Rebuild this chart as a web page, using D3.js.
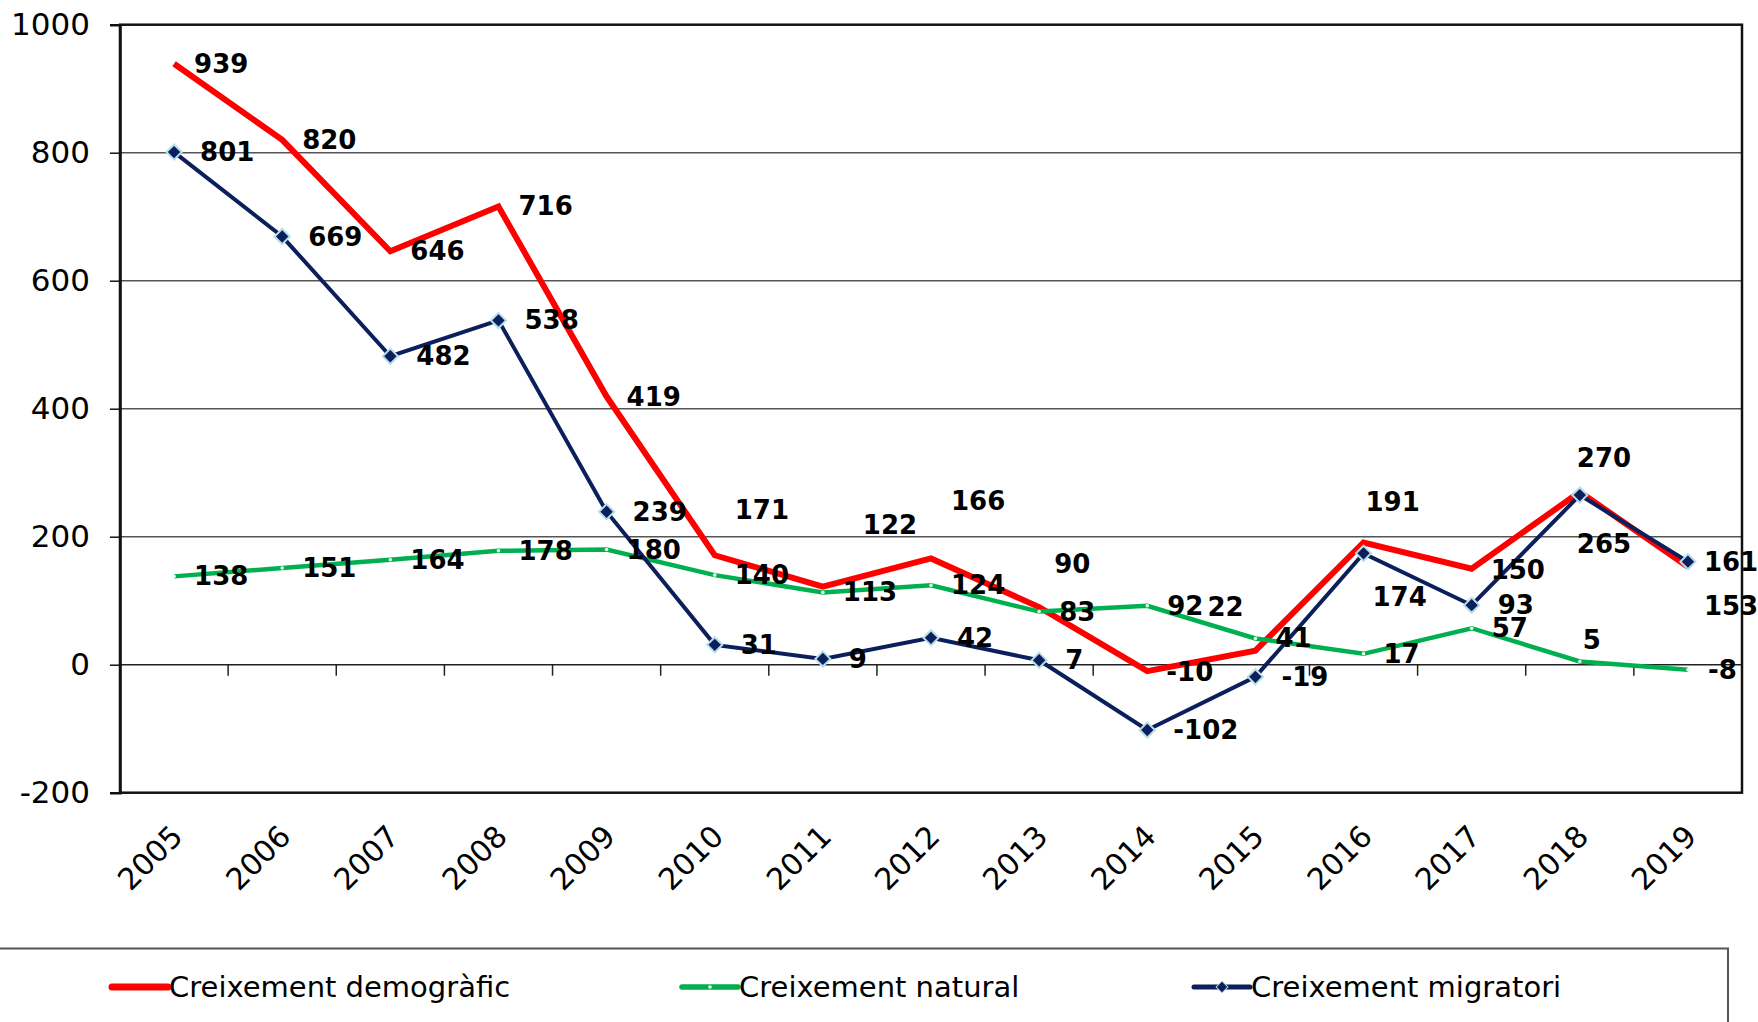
<!DOCTYPE html>
<html>
<head>
<meta charset="utf-8">
<script src="https://cdn.jsdelivr.net/npm/d3@7"></script>
<style>
  body { margin: 0; background: #fff; }
  svg { display: block; font-family: "DejaVu Sans", Verdana, sans-serif; }
</style>
</head>
<body>
<div id="chart"></div>
<script>
//------------------------------DATA------------------------------//
const years = ["2005","2006","2007","2008","2009","2010","2011","2012","2013","2014","2015","2016","2017","2018","2019"];
const demografic = [939, 820, 646, 716, 419, 171, 122, 166, 90, -10, 22, 191, 150, 270, 153];
const natural    = [138, 151, 164, 178, 180, 140, 113, 124, 83, 92, 41, 17, 57, 5, -8];
const migratori  = [801, 669, 482, 538, 239, 31, 9, 42, 7, -102, -19, 174, 93, 265, 161];
const yTicks = [-200, 0, 200, 400, 600, 800, 1000];

//----------------------------LAYOUT------------------------------//
const width = 1758;
const height = 1022;
const plot = { left: 120, right: 1742, top: 24.7, bottom: 792.7 };

// hand-placed data labels (dx from point to label start, dy to label centre)
const labelNudge = {
  dem: { "2010": [20, -45], "2011": [40, -62], "2012": [20, -57], "2013": [15, -43],
         "2014": [19, 1], "2015": [-48, -44], "2016": [2, -40], "2017": [19, 1],
         "2018": [-3, -34], "2019": [16, 39] },
  nat: { "2018": [3, -22] },
  mig: { "2016": [9, 44], "2018": [-3, 49], "2019": [16, 0] }
};

const series = [
  { key: "dem", name: "Creixement demogràfic", values: demografic, color: "#ff0000", width: 6, def: [20, 0] },
  { key: "nat", name: "Creixement natural", values: natural, color: "#00b050", width: 4.5, def: [20, 0] },
  { key: "mig", name: "Creixement migratori", values: migratori, color: "#0a1f5c", width: 4, def: [26, 0] }
];

const svg = d3.select("#chart").append("svg")
  .attr("width", width)
  .attr("height", height);

//----------------------------SCALES------------------------------//
const x = d3.scaleBand().domain(years).range([plot.left, plot.right]);
const y = d3.scaleLinear().domain([-200, 1000]).range([plot.bottom, plot.top]);
const cx = yr => x(yr) + x.bandwidth() / 2;

//-----------------------------GRID-------------------------------//
svg.append("g")
  .selectAll("line")
  .data(yTicks.filter(v => v > -200 && v < 1000))
  .join("line")
  .attr("x1", plot.left).attr("x2", plot.right)
  .attr("y1", d => y(d)).attr("y2", d => y(d))
  .attr("stroke", d => d === 0 ? "#222" : "#555")
  .attr("stroke-width", 1.5);

// category ticks on the zero line
svg.append("g")
  .selectAll("line")
  .data(years.slice(1))
  .join("line")
  .attr("x1", d => x(d)).attr("x2", d => x(d))
  .attr("y1", y(0)).attr("y2", y(0) + 11)
  .attr("stroke", "#222")
  .attr("stroke-width", 1.5);

// plot frame
svg.append("rect")
  .attr("x", plot.left).attr("y", plot.top)
  .attr("width", plot.right - plot.left)
  .attr("height", plot.bottom - plot.top)
  .attr("fill", "none")
  .attr("stroke", "#111")
  .attr("stroke-width", 2.5);

//-----------------------------AXES-------------------------------//
const yaxis = d3.axisLeft(y)
  .tickValues(yTicks)
  .tickFormat(v => String(v))
  .tickSize(10)
  .tickPadding(20);

const gy = svg.append("g")
  .attr("transform", `translate(${plot.left},0)`)
  .call(yaxis);
gy.select(".domain").attr("stroke", "#111").attr("stroke-width", 2.5);
gy.selectAll(".tick line").attr("stroke", "#111").attr("stroke-width", 1.5);
gy.selectAll(".tick text")
  .attr("font-family", "DejaVu Sans")
  .attr("font-size", 31)
  .attr("fill", "#000");

svg.append("g")
  .selectAll("text")
  .data(years)
  .join("text")
  .attr("transform", d => `translate(${cx(d) + 3},${plot.bottom + 38}) rotate(-45)`)
  .attr("text-anchor", "end")
  .attr("dominant-baseline", "central")
  .attr("font-size", 30)
  .attr("fill", "#000")
  .text(d => d);

//----------------------------LINES-------------------------------//
const line = d3.line()
  .x((d, i) => cx(years[i]))
  .y(d => y(d));

series.forEach(s => {
  svg.append("path")
    .datum(s.values)
    .attr("d", line)
    .attr("fill", "none")
    .attr("stroke", s.color)
    .attr("stroke-width", s.width)
    .attr("stroke-linejoin", "miter");
});

// green small markers
svg.append("g")
  .selectAll("circle")
  .data(natural)
  .join("circle")
  .attr("cx", (d, i) => cx(years[i]))
  .attr("cy", d => y(d))
  .attr("r", 1.8)
  .attr("fill", "#e8fff0");

// blue diamonds
const diamond = d3.symbol().type(d3.symbolSquare).size(115);
svg.append("g")
  .selectAll("path")
  .data(migratori)
  .join("path")
  .attr("d", diamond)
  .attr("transform", (d, i) => `translate(${cx(years[i])},${y(d)}) rotate(45)`)
  .attr("fill", "#0a1f5c")
  .attr("stroke", "#b7dde8")
  .attr("stroke-width", 2);

//----------------------------LABELS------------------------------//
series.forEach(s => {
  svg.append("g")
    .selectAll("text")
    .data(s.values)
    .join("text")
    .attr("x", (d, i) => cx(years[i]) + (labelNudge[s.key][years[i]] || s.def)[0])
    .attr("y", (d, i) => y(d) + (labelNudge[s.key][years[i]] || s.def)[1])
    .attr("dominant-baseline", "central")
    .attr("font-size", 26)
    .attr("font-weight", "bold")
    .attr("fill", "#000")
    .text(d => d);
});

//----------------------------LEGEND------------------------------//
svg.append("rect")
  .attr("x", -5).attr("y", 948.5)
  .attr("width", 1733).attr("height", 100)
  .attr("fill", "none")
  .attr("stroke", "#555")
  .attr("stroke-width", 2);

const legendX = [112, 682, 1194];
const legendY = 987;
series.forEach((s, i) => {
  const g = svg.append("g").attr("transform", `translate(${legendX[i]},${legendY})`);
  g.append("line")
    .attr("x1", 0).attr("x2", 56)
    .attr("stroke", s.color)
    .attr("stroke-width", s.width + 1)
    .attr("stroke-linecap", "round");
  if (s.key === "nat") {
    g.append("circle").attr("cx", 28).attr("r", 1.8).attr("fill", "#e8fff0");
  }
  if (s.key === "mig") {
    g.append("path")
      .attr("d", d3.symbol().type(d3.symbolSquare).size(70))
      .attr("transform", "translate(28,0) rotate(45)")
      .attr("fill", s.color)
      .attr("stroke", "#b7dde8")
      .attr("stroke-width", 1);
  }
  g.append("text")
    .attr("x", 57)
    .attr("dominant-baseline", "central")
    .attr("font-size", 29)
    .attr("fill", "#000")
    .text(s.name);
});
</script>
</body>
</html>
